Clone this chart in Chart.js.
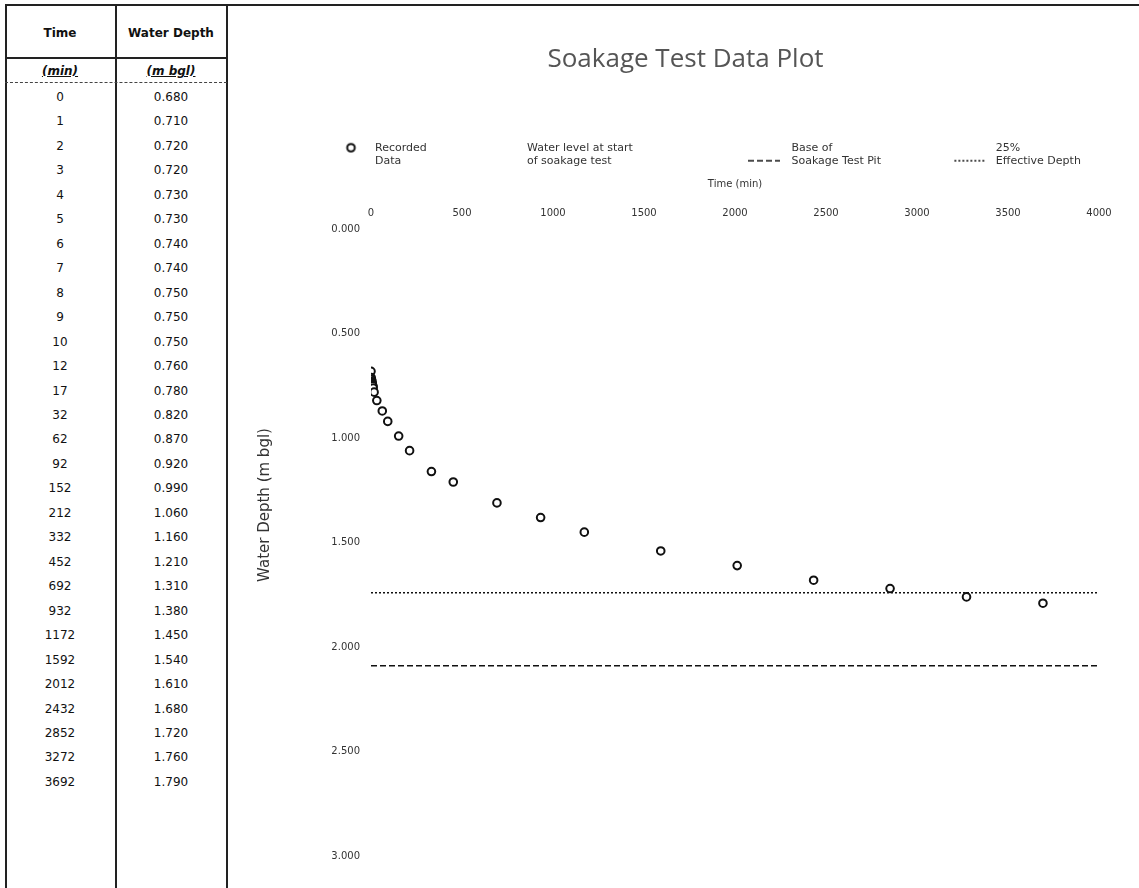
<!DOCTYPE html>
<html>
<head>
<meta charset="utf-8">
<script src="https://cdn.jsdelivr.net/npm/chart.js@4.4.1/dist/chart.umd.min.js"></script>
<style>
html,body{margin:0;padding:0;background:#fff;width:1139px;height:888px;overflow:hidden;font-family:"DejaVu Sans",sans-serif;}
.hline{position:absolute;height:0;border-top:2px solid #222;}
.vline{position:absolute;width:0;border-left:2px solid #222;}
.cell{position:absolute;text-align:center;font-size:12px;color:#111;line-height:14px;white-space:nowrap;}
.hdr{font-weight:bold;}
.unit{font-weight:bold;font-style:italic;text-decoration:underline;}
#dots{position:absolute;left:5px;top:82px;width:222px;height:0;border-top:1px dashed #444;}
#chartBox{position:absolute;left:232px;top:0;width:907px;height:888px;}
</style>
</head>
<body>
<div id="tbl"></div>
<div id="chartBox"><canvas id="c" width="907" height="888"></canvas></div>
<script>
// ---- data ----
const timeMin = [0,1,2,3,4,5,6,7,8,9,10,12,17,32,62,92,152,212,332,452,692,932,1172,1592,2012,2432,2852,3272,3692];
const depthM  = [0.680,0.710,0.720,0.720,0.730,0.730,0.740,0.740,0.750,0.750,0.750,0.760,0.780,0.820,0.870,0.920,0.990,1.060,1.160,1.210,1.310,1.380,1.450,1.540,1.610,1.680,1.720,1.760,1.790];
const startLevel = [0.68, 0.68];
const baseLevel  = [2.09, 2.09];
const level25    = [1.74, 1.74];
const lineTimes  = [0, 4000];
const tableHeaders = ["Time", "Water Depth"];
const tableUnits   = ["(min)", "(m bgl)"];
const chartTitle = "Soakage Test Data Plot";
const xAxisTitle = "Time (min)";
const yAxisTitle = "Water Depth (m bgl)";
const legendLabels = [
  ["Recorded", "Data"],
  ["Water level at start", "of soakage test"],
  ["Base of", "Soakage Test Pit"],
  ["25%", "Effective Depth"]
];

// ---- table (left) ----
const tbl = document.getElementById('tbl');
function add(html){ tbl.insertAdjacentHTML('beforeend', html); }
add('<div class="hline" style="left:5px;top:4px;width:1134px"></div>');
add('<div class="hline" style="left:5px;top:57px;width:222px"></div>');
add('<div class="vline" style="left:5px;top:4px;height:884px"></div>');
add('<div class="vline" style="left:115px;top:4px;height:884px"></div>');
add('<div class="vline" style="left:226px;top:4px;height:884px"></div>');
add('<div id="dots"></div>');
const colC = [60, 171];
tableHeaders.forEach((h,i)=>add(`<div class="cell hdr" style="left:${colC[i]-60}px;width:120px;top:${33-7}px">${h}</div>`));
tableUnits.forEach((h,i)=>add(`<div class="cell unit" style="left:${colC[i]-60}px;width:120px;top:${71-7}px">${h}</div>`));
timeMin.forEach((t,i)=>{
  const y = 97 + 24.46*i;
  add(`<div class="cell" style="left:${colC[0]-50}px;width:100px;top:${y-7}px">${t}</div>`);
  add(`<div class="cell" style="left:${colC[1]-50}px;width:100px;top:${y-7}px">${depthM[i].toFixed(3)}</div>`);
});

// ---- legend marker images ----
const BOXW = 50;
const LEG_PAD = 15;
function marker(kind){
  const c = document.createElement('canvas'); c.width = BOXW; c.height = 30;
  const g = c.getContext('2d');
  g.strokeStyle = '#111'; g.lineWidth = 1.5;
  if (kind === 'circle'){
    g.beginPath(); g.arc(31.5,15,3.8,0,Math.PI*2); g.fillStyle='#fff'; g.fill(); g.lineWidth=2; g.stroke();
  } else if (kind === 'dash'){
    g.setLineDash([6,3]); g.beginPath(); g.moveTo(12,28); g.lineTo(44,28); g.stroke();
  } else if (kind === 'dot'){
    g.setLineDash([2,2]); g.beginPath(); g.moveTo(14,28); g.lineTo(44,28); g.stroke();
  }
  return c;
}
const markers = [marker('circle'), marker('none'), marker('dash'), marker('dot')];

const yTitlePlugin = {
  id: 'yTitle',
  afterDraw(chart){
    const ctx = chart.ctx;
    ctx.save();
    ctx.translate(33, 505);
    ctx.rotate(-Math.PI/2);
    ctx.font = '15px "DejaVu Sans"';
    ctx.fillStyle = '#333';
    ctx.textAlign = 'center';
    ctx.textBaseline = 'middle';
    ctx.fillText(yAxisTitle, 0, 0);
    ctx.restore();
  }
};
const legendPlace = {
  id: 'legendPlace',
  afterLayout(chart){
    const l = chart.legend; if (!l) return;
    l.left = 87.5 - LEG_PAD;
    l.right = l.left + 1200;
    l.bottom += 18;
    if (l.adjustHitBoxes) l.adjustHitBoxes();
  }
};

const lineData = (vals) => lineTimes.map((t,i)=>({x:t, y:vals[i]}));

new Chart(document.getElementById('c'), {
  type: 'scatter',
  data: {
    datasets: [
      { label: 'Recorded Data', data: timeMin.map((t,i)=>({x:t,y:depthM[i]})),
        pointRadius: 3.8, pointBorderWidth: 2, borderColor: '#111', backgroundColor: '#fff', showLine: false },
      { label: 'Water level at start of soakage test', data: lineData(startLevel), showLine: true,
        borderColor: 'rgba(0,0,0,0)', backgroundColor: 'rgba(0,0,0,0)', pointRadius: 0, borderWidth: 1 },
      { label: 'Base', data: lineData(baseLevel), showLine: true, borderColor: '#111', backgroundColor: 'rgba(0,0,0,0)',
        borderDash: [6,3], borderWidth: 1.5, pointRadius: 0 },
      { label: '25%', data: lineData(level25), showLine: true, borderColor: '#111', backgroundColor: 'rgba(0,0,0,0)',
        borderDash: [2,2], borderWidth: 1.5, pointRadius: 0 }
    ]
  },
  options: {
    responsive: false, animation: false,
    layout: { padding: { left: 0, right: 0, top: 20, bottom: 32 } },
    plugins: {
      title: { display: true, text: chartTitle, color: '#555',
        font: { family: '"Open Sans"', size: 26, weight: 'normal' }, padding: { top: 24, bottom: 52 } },
      legend: { display: true, position: 'top', align: 'start',
        labels: { usePointStyle: true, pointStyleWidth: BOXW, padding: LEG_PAD, color: '#333',
          font: { family: '"DejaVu Sans"', size: 11 },
          generateLabels(chart){
            const items = Chart.defaults.plugins.legend.labels.generateLabels(chart);
            items.forEach((it,i)=>{ it.text = legendLabels[i]; it.pointStyle = markers[i]; });
            return items;
          } } },
      tooltip: { enabled: false }
    },
    scales: {
      x: { type: 'linear', position: 'top', min: 0, max: 4000,
        grid: { display: false, drawTicks: false }, border: { display: false },
        ticks: { stepSize: 500, color: '#333', font: { family: '"DejaVu Sans"', size: 10 }, padding: 10, maxRotation: 0,
          callback: v => String(v) },
        title: { display: true, text: xAxisTitle, color: '#333', font: { family: '"DejaVu Sans"', size: 10 }, padding: { top: 15, bottom: 7 } } },
      y: { type: 'linear', reverse: true, min: 0, max: 3,
        grid: { display: false, drawTicks: false }, border: { display: false },
        ticks: { stepSize: 0.5, color: '#333', font: { family: '"DejaVu Sans"', size: 10 }, padding: 11,
          callback: v => Number(v).toFixed(3) },
        afterFit(scale){ scale.width = 139; } },
      yR: { type: 'linear', position: 'right', display: true,
        grid: { display: false, drawTicks: false }, border: { display: false },
        ticks: { display: false },
        afterFit(scale){ scale.width = 40; } }
    }
  },
  plugins: [yTitlePlugin, legendPlace]
});
</script>
</body>
</html>
